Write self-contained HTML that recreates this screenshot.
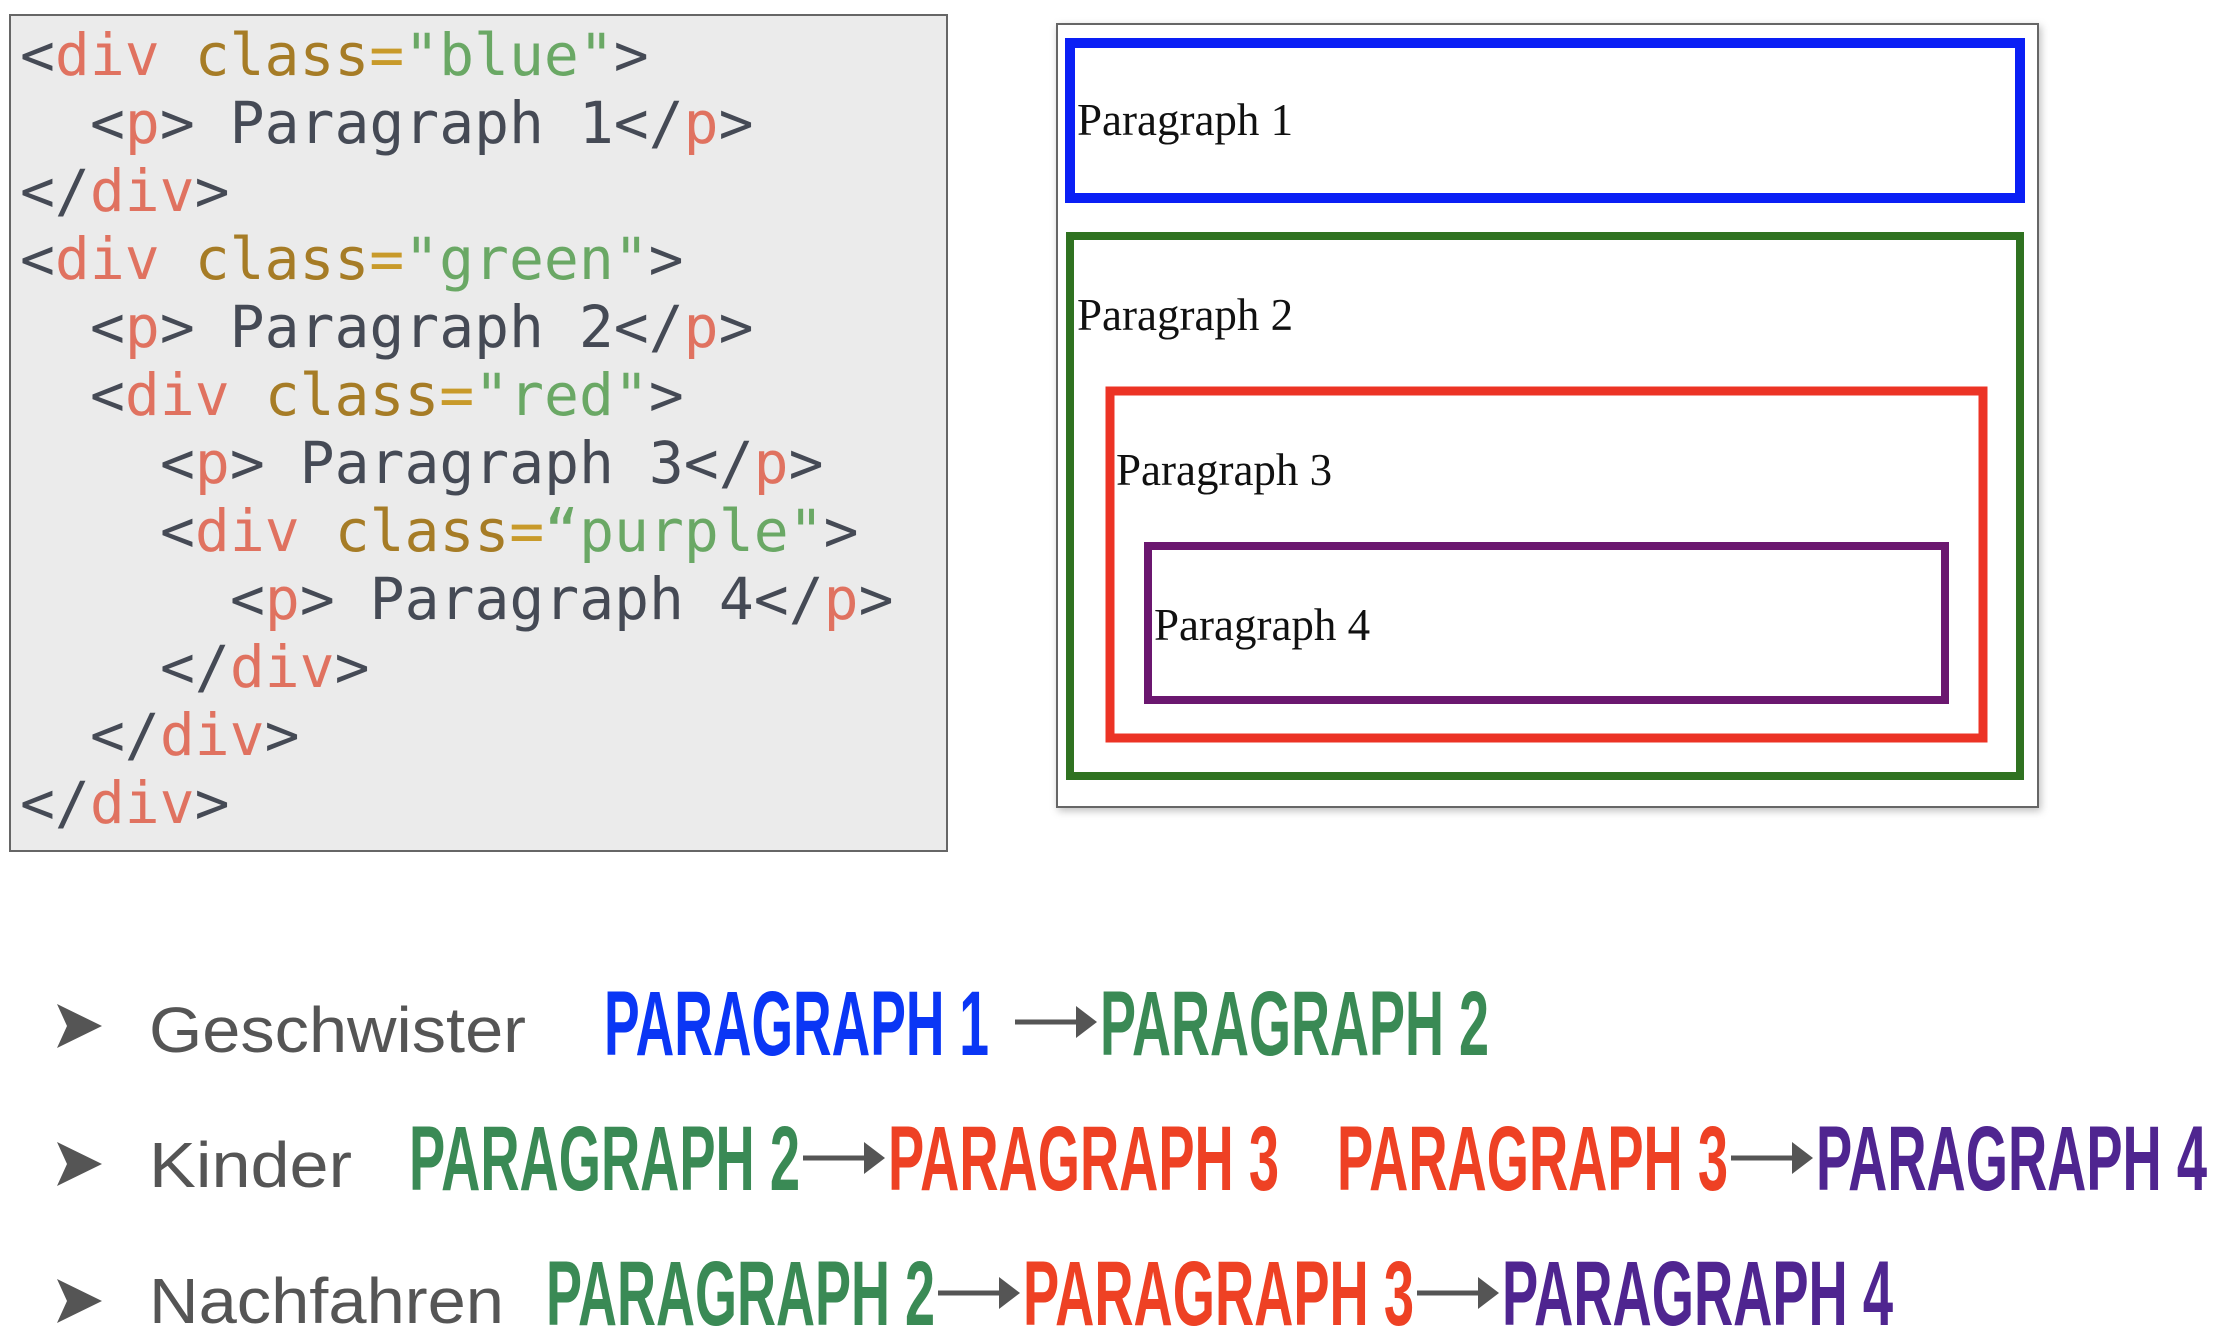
<!DOCTYPE html>
<html><head><meta charset="utf-8"><style>
html,body{margin:0;padding:0;background:#fff;width:2220px;height:1340px;overflow:hidden}
svg{display:block}
.code{font-family:"DejaVu Sans Mono","Liberation Mono",monospace;font-size:58px}
.g{fill:#454a55}.t{fill:#e07260}.a{fill:#a67c26}.q{fill:#c89a2a}.s{fill:#6aa865}
.ser{font-family:"Liberation Serif",serif;font-size:45px;fill:#111}
.lab{font-family:"Liberation Sans",sans-serif;font-size:64px;fill:#555}
.big{font-family:"Liberation Sans",sans-serif;font-weight:bold;font-size:92px}
</style></head><body>
<svg width="2220" height="1340" viewBox="0 0 2220 1340" xmlns="http://www.w3.org/2000/svg">
<defs><filter id="sh" x="-5%" y="-5%" width="110%" height="110%"><feDropShadow dx="2" dy="3" stdDeviation="4" flood-color="#000" flood-opacity="0.25"/></filter></defs>
<rect x="10" y="15" width="937" height="836" fill="#ebebeb" stroke="#666" stroke-width="2"/>
<g class="code">
<text x="20" y="75"><tspan class="g">&lt;</tspan><tspan class="t">div</tspan><tspan class="a" dx="35">class</tspan><tspan class="q">=</tspan><tspan class="s">"blue"</tspan><tspan class="g">&gt;</tspan></text>
<text x="90" y="143"><tspan class="g">&lt;</tspan><tspan class="t">p</tspan><tspan class="g">&gt; Paragraph 1&lt;/</tspan><tspan class="t">p</tspan><tspan class="g">&gt;</tspan></text>
<text x="20" y="211"><tspan class="g">&lt;/</tspan><tspan class="t">div</tspan><tspan class="g">&gt;</tspan></text>
<text x="20" y="279"><tspan class="g">&lt;</tspan><tspan class="t">div</tspan><tspan class="a" dx="35">class</tspan><tspan class="q">=</tspan><tspan class="s">"green"</tspan><tspan class="g">&gt;</tspan></text>
<text x="90" y="347"><tspan class="g">&lt;</tspan><tspan class="t">p</tspan><tspan class="g">&gt; Paragraph 2&lt;/</tspan><tspan class="t">p</tspan><tspan class="g">&gt;</tspan></text>
<text x="90" y="415"><tspan class="g">&lt;</tspan><tspan class="t">div</tspan><tspan class="a" dx="35">class</tspan><tspan class="q">=</tspan><tspan class="s">"red"</tspan><tspan class="g">&gt;</tspan></text>
<text x="160" y="483"><tspan class="g">&lt;</tspan><tspan class="t">p</tspan><tspan class="g">&gt; Paragraph 3&lt;/</tspan><tspan class="t">p</tspan><tspan class="g">&gt;</tspan></text>
<text x="160" y="551"><tspan class="g">&lt;</tspan><tspan class="t">div</tspan><tspan class="a" dx="35">class</tspan><tspan class="q">=</tspan><tspan class="s">“purple"</tspan><tspan class="g">&gt;</tspan></text>
<text x="230" y="619"><tspan class="g">&lt;</tspan><tspan class="t">p</tspan><tspan class="g">&gt; Paragraph 4&lt;/</tspan><tspan class="t">p</tspan><tspan class="g">&gt;</tspan></text>
<text x="160" y="687"><tspan class="g">&lt;/</tspan><tspan class="t">div</tspan><tspan class="g">&gt;</tspan></text>
<text x="90" y="755"><tspan class="g">&lt;/</tspan><tspan class="t">div</tspan><tspan class="g">&gt;</tspan></text>
<text x="20" y="823"><tspan class="g">&lt;/</tspan><tspan class="t">div</tspan><tspan class="g">&gt;</tspan></text>
</g>
<rect x="1057" y="24" width="981" height="783" fill="#fff" stroke="#666" stroke-width="2" filter="url(#sh)"/>
<rect x="1070" y="43" width="950" height="155" fill="none" stroke="#0a1ff5" stroke-width="10"/>
<rect x="1070" y="236" width="950" height="540" fill="none" stroke="#2f7221" stroke-width="8"/>
<rect x="1110" y="391" width="873" height="347" fill="none" stroke="#ec3325" stroke-width="9"/>
<rect x="1148" y="546" width="797" height="154" fill="none" stroke="#6b176f" stroke-width="8"/>
<text class="ser" x="1077" y="135">Paragraph 1</text>
<text class="ser" x="1077" y="330">Paragraph 2</text>
<text class="ser" x="1116" y="485">Paragraph 3</text>
<text class="ser" x="1154" y="640">Paragraph 4</text>
<g transform="translate(-3,-4)">
<g fill="#555">
<polygon points="60,1008 105,1030 60,1052 70,1030"/>
<polygon points="60,1146 105,1168 60,1190 70,1168"/>
<polygon points="60,1283 105,1305 60,1327 70,1305"/>
</g>
<text class="lab" x="152" y="1056" textLength="377" lengthAdjust="spacingAndGlyphs">Geschwister</text>
<text class="lab" x="152" y="1191" textLength="203" lengthAdjust="spacingAndGlyphs">Kinder</text>
<text class="lab" x="152" y="1327" textLength="355" lengthAdjust="spacingAndGlyphs">Nachfahren</text>
<g class="big">
<text x="607" y="1059" fill="#0a36f5" textLength="385" lengthAdjust="spacingAndGlyphs">PARAGRAPH 1</text>
<text x="1103" y="1059" fill="#3a8a55" textLength="389" lengthAdjust="spacingAndGlyphs">PARAGRAPH 2</text>
<text x="412" y="1194" fill="#3a8a55" textLength="391" lengthAdjust="spacingAndGlyphs">PARAGRAPH 2</text>
<text x="891" y="1194" fill="#ee4124" textLength="391" lengthAdjust="spacingAndGlyphs">PARAGRAPH 3</text>
<text x="1340" y="1194" fill="#ee4124" textLength="391" lengthAdjust="spacingAndGlyphs">PARAGRAPH 3</text>
<text x="1819" y="1194" fill="#4f2590" textLength="391" lengthAdjust="spacingAndGlyphs">PARAGRAPH 4</text>
<text x="549" y="1329" fill="#3a8a55" textLength="389" lengthAdjust="spacingAndGlyphs">PARAGRAPH 2</text>
<text x="1026" y="1329" fill="#ee4124" textLength="391" lengthAdjust="spacingAndGlyphs">PARAGRAPH 3</text>
<text x="1505" y="1329" fill="#4f2590" textLength="391" lengthAdjust="spacingAndGlyphs">PARAGRAPH 4</text>
</g>
<g stroke="#555" stroke-width="5" fill="#555">
<line x1="1018" y1="1026" x2="1085" y2="1026"/><polygon stroke="none" points="1079,1010 1100,1026 1079,1042"/>
<line x1="806" y1="1162" x2="873" y2="1162"/><polygon stroke="none" points="867,1146 888,1162 867,1178"/>
<line x1="1734" y1="1162" x2="1801" y2="1162"/><polygon stroke="none" points="1795,1146 1816,1162 1795,1178"/>
<line x1="941" y1="1297" x2="1008" y2="1297"/><polygon stroke="none" points="1002,1281 1023,1297 1002,1313"/>
<line x1="1420" y1="1297" x2="1487" y2="1297"/><polygon stroke="none" points="1481,1281 1502,1297 1481,1313"/>
</g>
</g>
</svg>
</body></html>
